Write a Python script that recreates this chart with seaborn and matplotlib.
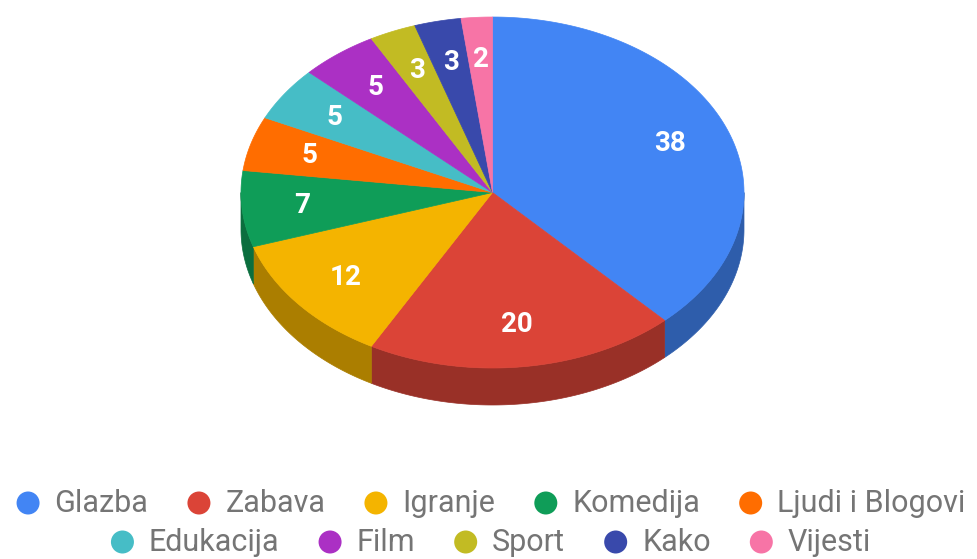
import numpy as np
import matplotlib
matplotlib.use("Agg")
import matplotlib.pyplot as plt
from matplotlib.patches import Polygon, Circle
import seaborn as sns

# podaci
kategorije = ["Glazba", "Zabava", "Igranje", "Komedija", "Ljudi i Blogovi",
              "Edukacija", "Film", "Sport", "Kako", "Vijesti"]
vrijednosti = [38, 20, 12, 7, 5, 5, 5, 3, 3, 2]
boje = ["#4285f4", "#db4437", "#f4b400", "#0f9d58", "#ff6d00",
        "#46bdc6", "#ab30c4", "#c2bb23", "#3949ab", "#f774a6"]

sns.set_theme(style="white")
plt.rcParams["font.family"] = ["Roboto", "DejaVu Sans"]

paleta = sns.color_palette(boje)
tamna = [tuple(c * 0.7 for c in col) for col in paleta]

W, H = 978, 559
fig = plt.figure(figsize=(W / 100, H / 100), dpi=100)
ax = fig.add_axes([0, 0, 1, 1])
ax.set_xlim(0, W)
ax.set_ylim(H, 0)
ax.axis("off")

# geometrija 3D pite (pikseli)
cx, cy = 492.5, 192.5
rx, ry = 251.5, 175.5
dubina = 37


def luk(a, b, n=120):
    t = np.radians(np.linspace(a, b, n))
    return cx + rx * np.sin(t), cy - ry * np.cos(t)


ukupno = sum(vrijednosti)
kutovi = np.concatenate([[0], np.cumsum(vrijednosti) / ukupno * 360])

# bocne strane (prednja polovica)
for i in range(len(vrijednosti)):
    a, b = max(kutovi[i], 90), min(kutovi[i + 1], 270)
    if a >= b:
        continue
    x, y = luk(a, b)
    pts = np.column_stack([np.concatenate([x, x[::-1]]),
                           np.concatenate([y, y[::-1] + dubina])])
    ax.add_patch(Polygon(pts, closed=True, facecolor=tamna[i],
                         edgecolor=tamna[i], lw=0.5))

# gornja ploha
for i in range(len(vrijednosti)):
    x, y = luk(kutovi[i], kutovi[i + 1])
    pts = np.column_stack([np.concatenate([[cx], x]), np.concatenate([[cy], y])])
    ax.add_patch(Polygon(pts, closed=True, facecolor=paleta[i],
                         edgecolor=paleta[i], lw=0.5))

# oznake vrijednosti
for i, v in enumerate(vrijednosti):
    t = np.radians((kutovi[i] + kutovi[i + 1]) / 2)
    r = 0.76
    ax.text(cx + r * rx * np.sin(t), cy - r * ry * np.cos(t), str(v),
            color="white", fontsize=20, fontweight="bold",
            ha="center", va="center")

# legenda u dva reda, centrirano
redovi = [kategorije[:5], kategorije[5:]]
baseline = [512, 551]
krug_y = [503, 542]
razmak = 39
fig.canvas.draw()
renderer = fig.canvas.get_renderer()
idx = 0
for red, yb, yk in zip(redovi, baseline, krug_y):
    tekstovi = []
    for ime in red:
        t = ax.text(0, yb, ime, fontsize=22, color="#757575",
                    ha="left", va="baseline")
        tekstovi.append(t)
    sirine = [t.get_window_extent(renderer).width for t in tekstovi]
    ukupna = sum(23 + 15 + s for s in sirine) + razmak * (len(red) - 1)
    x0 = 491 - ukupna / 2
    for t, s in zip(tekstovi, sirine):
        ax.add_patch(Circle((x0 + 11.5, yk), 11.5, color=paleta[idx], lw=0))
        t.set_x(x0 + 23 + 15)
        x0 += 23 + 15 + s + razmak
        idx += 1

fig.savefig("out.png", dpi=100)
